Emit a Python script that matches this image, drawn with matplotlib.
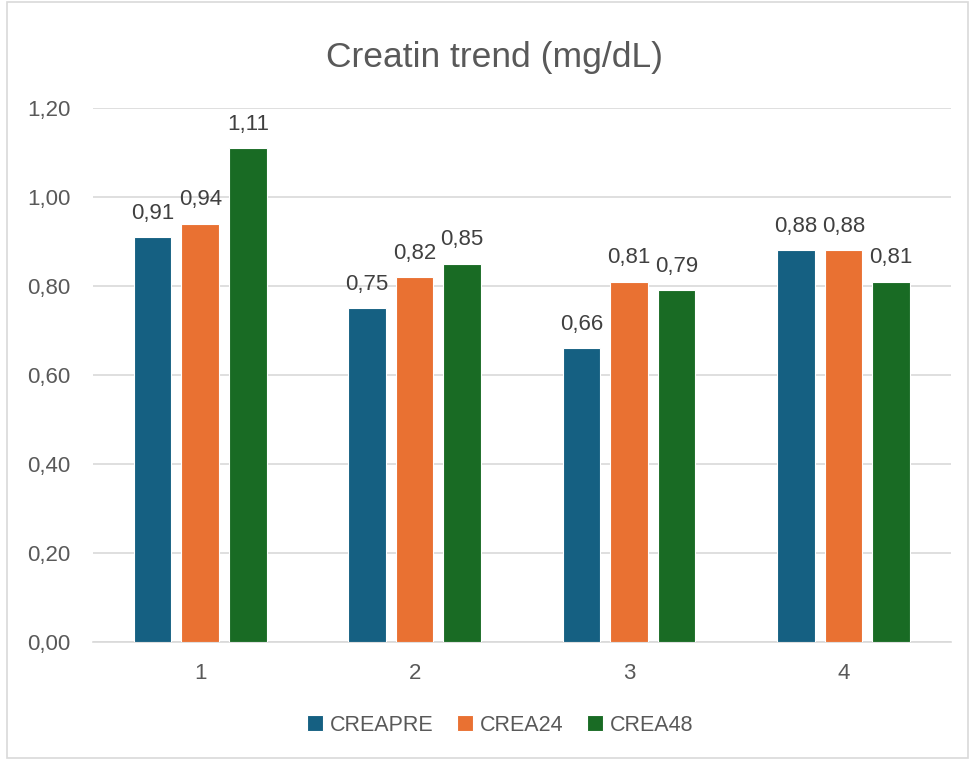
import numpy as np
import matplotlib.pyplot as plt
from matplotlib.patches import Rectangle

plt.rcParams['font.family'] = ['Liberation Sans', 'DejaVu Sans']

groups = ["1", "2", "3", "4"]
creapre = [0.91, 0.75, 0.66, 0.88]
crea24 = [0.94, 0.82, 0.81, 0.88]
crea48 = [1.11, 0.85, 0.79, 0.81]
series_names = ["CREAPRE", "CREA24", "CREA48"]
colors = ["#156082", "#E97132", "#196B24"]

fig = plt.figure(figsize=(9.69, 7.6), dpi=100)
ax = fig.add_axes([0.096, 0.155, 0.885, 0.703])

# light border round the chart area
fig.patches.append(Rectangle((0.007, 0.002), 0.992, 0.996, transform=fig.transFigure,
                             fill=False, edgecolor="#D9D9D9", linewidth=1.2))

x = np.arange(len(groups))
width = 0.175
step = 0.222
for i, (vals, name, c) in enumerate(zip([creapre, crea24, crea48], series_names, colors)):
    pos = x + (i - 1) * step
    bars = ax.bar(pos, vals, width, color=c, edgecolor="white", linewidth=0.8, label=name, zorder=3)
    for b, v in zip(bars, vals):
        ax.text(b.get_x() + b.get_width() / 2, v + 0.03, f"{v:.2f}".replace(".", ","),
                ha="center", va="bottom", fontsize=16, color="#404040")

ax.set_xlim(-0.5, 3.5)
ax.set_ylim(0, 1.2)
ax.set_yticks(np.arange(0, 1.21, 0.2))
ax.set_yticklabels([f"{t:.2f}".replace(".", ",") for t in np.arange(0, 1.21, 0.2)])
ax.set_xticks(x)
ax.set_xticklabels(groups)
ax.tick_params(axis="both", length=0, labelsize=16, labelcolor="#595959")
ax.tick_params(axis="y", pad=16)
ax.tick_params(axis="x", pad=15)
ax.grid(axis="y", color="#D9D9D9", linewidth=1.2, zorder=0)
for s in ["top", "right", "left"]:
    ax.spines[s].set_visible(False)
ax.spines["bottom"].set_color("#D9D9D9")
ax.spines["bottom"].set_linewidth(1.2)

fig.text(0.510, 0.925, "Creatin trend (mg/dL)", ha="center", va="center", fontsize=25.5, color="#595959")

fig.legend(loc="center", bbox_to_anchor=(0.516, 0.046), ncol=3, frameon=False, fontsize=15.5,
           handlelength=0.75, handleheight=0.75, handletextpad=0.3, columnspacing=1.1,
           labelcolor="#595959")

fig.savefig("out.png", dpi=100)
